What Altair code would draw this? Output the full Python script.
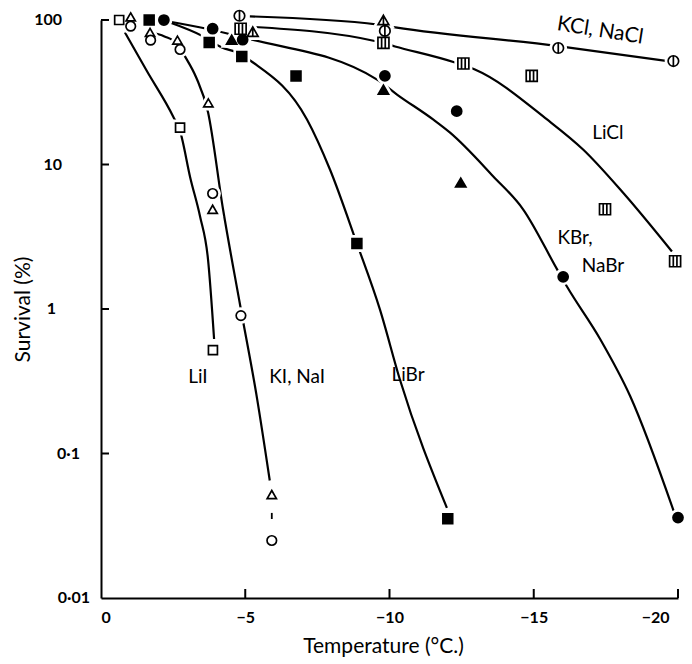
import altair as alt
import pandas as pd

# ---------------- observed points (temperature °C, survival %) ----------------
lii_t = [-0.63, -2.74, -3.88]
lii_s = [100, 18, 0.52]
ki_t = [-1.03, -1.70, -2.65, -3.72, -3.87, -5.92]
ki_s = [105, 82, 72.5, 26.7, 4.9, 0.052]
nai_t = [-1.03, -1.72, -2.74, -3.87, -4.85, -5.92]
nai_s = [90.6, 72.5, 62.5, 6.3, 0.90, 0.025]
libr_t = [-1.67, -3.75, -4.88, -6.76, -8.87, -12.02]
libr_s = [100, 70, 56, 41, 2.84, 0.0353]
kbr_t = [-2.18, -3.87, -4.91, -9.84, -12.33, -16.02, -20.0]
kbr_s = [100, 87, 73, 41, 23.4, 1.67, 0.036]
nabr_t = [-4.53, -9.79, -12.47]
nabr_s = [73, 33, 7.5]
kcl_t = [-4.8, -9.84, -15.85, -19.84]
kcl_s = [107, 84, 64, 52]
nacl_t = [-5.26, -9.79]
nacl_s = [83, 100]
licl_t = [-4.84, -9.79, -12.56, -14.93, -17.47, -19.9]
licl_s = [87, 69.5, 50, 41, 4.9, 2.14]

# ---------------- fitted curves as drawn ----------------
c_lii_t = [-0.83, -1.6, -2.5, -2.74, -3.1, -3.43, -3.71, -3.92]
c_lii_s = [82, 44, 21.5, 17, 8, 4.4, 2.2, 0.62]
c_ki_t = [-1.7, -2.2, -2.65, -2.91, -3.3, -3.71, -4.23, -4.82, -5.41, -5.85]
c_ki_s = [82, 77, 68, 56, 40, 23, 4.9, 1.07, 0.24, 0.065]
c_libr_t = [-2.39, -3.54, -4.19, -4.71, -5.27, -7.14, -7.94, -8.87, -9.67, -10.36, -11.99]
c_libr_s = [96, 77, 64.5, 59.6, 50.8, 20.5, 9.2, 2.84, 0.99, 0.325, 0.042]
c_kbr_t = [-2.3, -3.67, -5.06, -9.57, -10.26, -11.51, -12.10, -13.59, -14.63, -15.81,
           -16.15, -17.30, -18.34, -19.85]
c_kbr_s = [98, 87, 74.5, 38.7, 30.5, 20.5, 16.6, 8.3, 4.9, 1.88, 1.43, 0.62, 0.25, 0.04]
c_licl_t = [-5.06, -9.57, -10.19, -12.27, -12.96, -15.46, -16.71, -18.09, -19.79]
c_licl_s = [90, 71, 65.6, 50.8, 45.4, 20.5, 12.7, 6.4, 2.5]
c_kcl_t = [-5.16, -9.6, -10.2, -15.85, -19.65]
c_kcl_s = [106, 93, 89, 66, 52]
# short dash between the last KI triangle and NaI circle
dot_t = [-5.92, -5.92]
dot_s = [0.0388, 0.0352]

# ---------------- curve labels ----------------
lab_text = ["LiI", "KI, NaI", "LiBr", "KBr,", "NaBr", "LiCl"]
lab_t = [-3.36, -6.8, -10.64, -16.43, -17.4, -17.57]
lab_s = [0.34, 0.34, 0.35, 3.1, 1.97, 16.6]
tilt_text = ["KCl, NaCl"]
tilt_t = [-17.3]
tilt_s = [84]

# ---------------- axis ticks / labels ----------------
x_ticks = [-5, -10, -15, -20]
y_ticks = [0.1, 1, 10, 100]
ylab_a_v = [10, 100]
ylab_a_t = ["10", "100"]
ylab_b_v = [1]
ylab_b_t = ["1"]
ylab_c_v = [0.1]
ylab_c_t = ["0\u00b71"]
ylab_d_v = [0.01]
ylab_d_t = ["0\u00b701"]

series = ["LiI", "KI", "NaI", "LiBr", "KBr", "NaBr", "KCl", "NaCl", "LiCl"]
CIRC_BAR = "M1,0A1,1,0,1,1,-1,0A1,1,0,1,1,1,0Z M0,-1L0,1"
TRI_BAR = "M0,-0.87L1,0.87L-1,0.87Z M0,-0.87L0,0.87"
SQ_BARS = "M-1,-1L1,-1L1,1L-1,1Z M-0.33,-1L-0.33,1 M0.33,-1L0.33,1"
shapes = ["square", "triangle-up", "circle", "square", "circle", "triangle-up",
          CIRC_BAR, TRI_BAR, SQ_BARS]
fills = ["white", "white", "white", "black", "black", "black", "white", "white", "white"]
sizes = [81, 121, 64, 110, 26, 170, 81, 121, 100]

pt_rows = []
for name, t, s in [("LiI", lii_t, lii_s), ("KI", ki_t, ki_s), ("NaI", nai_t, nai_s),
                   ("LiBr", libr_t, libr_s), ("KBr", kbr_t, kbr_s), ("NaBr", nabr_t, nabr_s),
                   ("KCl", kcl_t, kcl_s), ("NaCl", nacl_t, nacl_s), ("LiCl", licl_t, licl_s)]:
    pt_rows += [{"series": name, "T": a, "S": b} for a, b in zip(t, s)]
points = pd.DataFrame(pt_rows)

cv_rows = []
for name, t, s in [("LiI", c_lii_t, c_lii_s), ("KI", c_ki_t, c_ki_s), ("LiBr", c_libr_t, c_libr_s),
                   ("KBr", c_kbr_t, c_kbr_s), ("LiCl", c_licl_t, c_licl_s), ("KCl", c_kcl_t, c_kcl_s)]:
    cv_rows += [{"curve": name, "T": a, "S": b} for a, b in zip(t, s)]
curves = pd.DataFrame(cv_rows)
dots = pd.DataFrame({"T": dot_t, "S": dot_s})

labels = pd.DataFrame({"text": lab_text, "T": lab_t, "S": lab_s})
tilt = pd.DataFrame({"text": tilt_text, "T": tilt_t, "S": tilt_s})
xt = pd.DataFrame({"T": x_ticks})
yt = pd.DataFrame({"S": y_ticks})

FONT = "Lato"
W, H = 577, 578

xs = alt.Scale(domain=[0, -20], nice=False, zero=False)
ys = alt.Scale(type="log", domain=[0.01, 100], nice=False)

x_axis = alt.Axis(
    values=[0, -5, -10, -15, -20],
    labelExpr="datum.value == 0 ? '0' : '\u2212' + abs(datum.value)",
    ticks=False, grid=False, domainWidth=2, domainColor="black",
    labelFont=FONT, labelFontWeight="bold", labelFontSize=16, labelColor="black",
    labelPadding=11,
    labelOffset={"condition": {"test": "datum.value <= -20", "value": -9}, "value": 0},
    title="Temperature (\u00b0C.)", titleFont=FONT, titleFontSize=21, titleFontWeight="normal",
    titleColor="black", titleX=282, titleY=48, titleBaseline="middle",
)
y_axis = alt.Axis(
    values=[0.01, 0.1, 1, 10, 100], labels=False,
    ticks=False, grid=False, domainWidth=2, domainColor="black",
    title="Survival (%)", titleFont=FONT, titleFontSize=21, titleFontWeight="normal",
    titleColor="black", titleX=-78, titleY=H / 2, titleBaseline="middle", titleAngle=-90,
)

base_x = alt.X("T:Q", scale=xs, axis=x_axis)
base_y = alt.Y("S:Q", scale=ys, axis=y_axis)

lines = alt.Chart(curves).mark_line(color="black", strokeWidth=2.2, interpolate="monotone").encode(
    x=base_x, y=base_y, detail="curve:N", order=alt.Order("T:Q", sort="descending")
)
dotted = alt.Chart(dots).mark_line(color="black", strokeWidth=1.8).encode(
    x="T:Q", y="S:Q"
)

shape_enc = alt.Shape("series:N", scale=alt.Scale(domain=series, range=shapes), legend=None)
size_enc = alt.Size("series:N", scale=alt.Scale(domain=series, range=sizes), legend=None)

halo = alt.Chart(points).mark_point(fill="white", stroke="white", strokeWidth=7, opacity=1,
                                    fillOpacity=1).encode(
    x="T:Q", y="S:Q", shape=shape_enc, size=size_enc
)
marks = alt.Chart(points).mark_point(stroke="black", strokeWidth=1.7, opacity=1, fillOpacity=1).encode(
    x="T:Q", y="S:Q", shape=shape_enc, size=size_enc,
    fill=alt.Fill("series:N", scale=alt.Scale(domain=series, range=fills), legend=None),
)

xtick = alt.Chart(xt).mark_rule(color="black", strokeWidth=2).encode(
    x="T:Q", y=alt.value(H), y2=alt.value(H - 9)
)
ytick = alt.Chart(yt).mark_rule(color="black", strokeWidth=2).encode(
    y="S:Q", x=alt.value(0), x2=alt.value(8)
)


def ylabel_layer(vals, texts, xpos):
    df = pd.DataFrame({"S": vals, "text": texts})
    return alt.Chart(df).mark_text(font=FONT, fontSize=16, fontWeight="bold", color="black",
                                   align="right", baseline="middle").encode(
        y="S:Q", x=alt.value(xpos), text="text:N")


ylabs = [ylabel_layer(ylab_a_v, ylab_a_t, -39), ylabel_layer(ylab_b_v, ylab_b_t, -45),
         ylabel_layer(ylab_c_v, ylab_c_t, -21), ylabel_layer(ylab_d_v, ylab_d_t, -11)]

text = alt.Chart(labels).mark_text(font=FONT, fontSize=19, color="black", align="center",
                                    baseline="middle").encode(x="T:Q", y="S:Q", text="text:N")
ttext = alt.Chart(tilt).mark_text(font=FONT, fontSize=21, color="black", align="center",
                                   baseline="middle", angle=9).encode(x="T:Q", y="S:Q", text="text:N")

chart = alt.layer(lines, dotted, halo, marks, xtick, ytick, *ylabs, text, ttext).resolve_scale(
    shape="independent", size="independent"
).properties(
    width=W, height=H,
    autosize=alt.AutoSizeParams(type="none"),
    padding={"left": 93, "top": 12, "right": 6, "bottom": 60},
    background="white",
).configure_view(stroke=None)

chart.save("out.html", embed_options={"renderer": "svg", "actions": False})
